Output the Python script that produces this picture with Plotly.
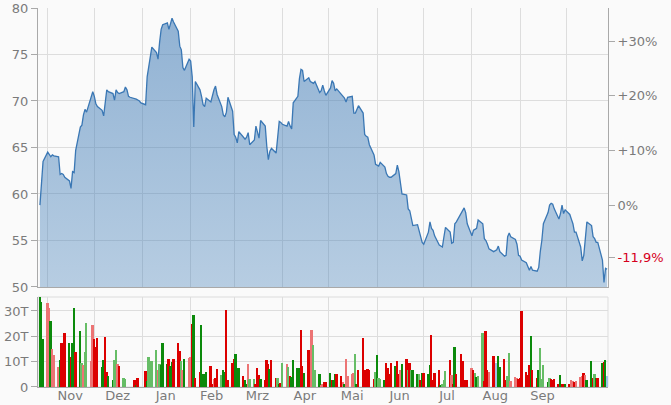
import pandas as pd
import plotly.graph_objects as go

# ---------------- data ----------------
months = ["2021-10", "2021-11", "2021-12", "2022-01", "2022-02", "2022-03", "2022-04",
          "2022-05", "2022-06", "2022-07", "2022-08", "2022-09", "2022-10"]
first_day = "2021-10-27"
last_day = "2022-10-27"

# closing prices per month
price_2021_10 = [58.8, 61.5, 63.5]
price_2021_11 = [64.5, 64.2, 64.0, 64.2, 64.1, 64.0, 62.1, 62.2, 62.1, 61.8, 61.4, 60.6, 62.4, 62.3,
                 64.7, 67.2, 67.4, 68.5, 69.1, 68.8, 70.3, 71.0]
price_2021_12 = [70.5, 69.7, 69.4, 69.0, 68.4, 69.9, 71.2, 71.0, 70.8, 70.1, 71.2, 70.9, 70.8, 71.0,
                 71.5, 71.2, 70.5, 70.4, 70.3, 70.2, 70.1, 70.0, 69.8]
price_2022_01 = [69.6, 72.6, 73.7, 74.8, 75.8, 75.2, 74.5, 76.3, 77.7, 78.2, 78.4, 77.7, 78.2, 78.9,
                 78.5, 77.5, 75.9, 75.5, 73.6, 73.3, 74.5]
price_2022_02 = [74.3, 72.6, 67.2, 72.1, 71.2, 70.5, 69.6, 69.4, 70.3, 69.9, 70.7, 71.2, 71.6, 70.7,
                 69.4, 68.5, 68.3, 68.8, 70.4, 68.9]
price_2022_03 = [66.4, 66.1, 65.5, 66.7, 66.1, 65.9, 66.1, 66.6, 65.3, 65.8, 67.3, 66.6, 66.0, 67.9,
                 67.3, 65.1, 63.7, 64.6, 64.9, 64.4, 65.8, 67.8, 67.7]
price_2022_04 = [67.5, 67.3, 67.8, 67.3, 67.0, 69.8, 70.5, 72.4, 73.4, 73.3, 72.1, 72.5, 72.1, 72.0,
                 71.9, 72.1, 70.9, 71.1, 71.7, 71.1, 70.6]
price_2022_05 = [71.4, 72.2, 71.9, 71.1, 71.3, 70.7, 70.4, 70.3, 69.9, 70.4, 70.5, 68.7, 68.7, 69.1,
                 69.5, 68.7, 66.4, 66.2, 66.1, 65.3, 64.2, 63.2]
price_2022_06 = [63.1, 63.0, 63.4, 62.9, 62.2, 61.9, 61.8, 61.8, 62.2, 63.1, 62.4, 61.1, 60.0, 59.9,
                 58.4, 58.2, 57.5, 56.6, 56.7, 56.1, 55.7, 54.8]
price_2022_07 = [54.6, 55.9, 57.0, 56.3, 56.1, 55.5, 54.5, 54.4, 54.3, 55.4, 56.4, 55.9, 54.7, 54.8,
                 56.8, 57.0, 57.9, 58.2, 58.5, 58.0, 56.8]
price_2022_08 = [55.5, 56.1, 56.2, 56.3, 57.2, 56.8, 55.2, 55.0, 54.6, 54.1, 53.8, 53.9, 54.0, 54.4,
                 53.8, 53.3, 53.4, 55.4, 55.8, 55.4, 55.1, 54.6, 53.4]
price_2022_09 = [53.3, 52.9, 52.6, 52.1, 51.8, 52.2, 51.8, 51.7, 52.1, 53.8, 55.0, 56.8, 58.0, 58.8,
                 59.0, 58.9, 58.4, 57.3, 57.9, 58.8, 57.9, 58.3]
price_2022_10 = [57.8, 57.3, 56.8, 55.9, 55.9, 54.3, 52.8, 53.4, 55.4, 57.0, 56.6, 55.4, 55.2, 54.8,
                 54.8, 52.9, 50.5, 52.0, 51.9]

# volume in thousands (T = Tausend)
vol_2021_10 = [35.5, 33.5, 19.0]
vol_2021_11 = [33, 31, 26, 15, 12.8, 7.9, 10.5, 17.4, 7.5, 21.3, 17.4, 11.8, 17.4, 31, 13.8, 22,
               9.6, 8.6, 14, 25.4, 10.1, 24.3]
vol_2021_12 = [18.8, 15.8, 19.3, 7.9, 10.8, 19.7, 5.9, 4.2, 2.9, 10.5, 14.5, 9.2, 8.2, 3.7, 3.0,
               0, 0, 0, 2.9, 0.9, 3.7, 0, 0]
vol_2022_01 = [6.4, 2.4, 11.8, 8.2, 10.1, 14.5, 6.8, 9.2, 8.6, 17.4, 9.2, 11.2, 8.2, 9.9, 11.2,
               17.5, 14.2, 10.1, 6.6, 11.2, 11.4]
vol_2022_02 = [11.8, 24.7, 28.3, 3.7, 5.9, 24.3, 5.0, 5.0, 5.9, 8.2, 1.0, 3.3, 3.7, 7.2, 4.6, 6.6,
               5.9, 30.5, 2.6, 9.5]
vol_2022_03 = [11.2, 13.2, 5.9, 7.6, 4.2, 2.9, 1.3, 9.2, 3.3, 3.3, 1.0, 7.6, 4.6, 3.3, 2.6, 10.5,
               9.2, 7.2, 10.5, 3.7, 3.7, 1.0, 1.5]
vol_2022_04 = [9.6, 9.2, 7.9, 4.2, 3.9, 10.8, 7.6, 7.6, 22.6, 8.2, 5.5, 14.5, 8.6, 22.6, 16.7, 6.8,
               5.0, 0.7, 1.0, 2.0, 2.0]
vol_2022_05 = [5.5, 2.9, 2.6, 5.0, 5.0, 4.2, 2.0, 1.3, 11.2, 4.2, 5.3, 5.5, 13.2, 1.3, 6.6, 19.3,
               6.6, 3.3, 7.2, 6.8, 3.3, 5.9]
vol_2022_06 = [12.8, 3.7, 3.3, 2.6, 9.6, 7.6, 5.3, 9.6, 8.2, 10.1, 5.3, 6.6, 9.2, 11.2, 6.8, 9.6,
               6.6, 6.8, 5.3, 5.0, 2.6, 5.5]
vol_2022_07 = [5.5, 5.3, 8.6, 20.7, 2.6, 5.5, 6.8, 0.7, 1.1, 2.9, 6.2, 10.8, 4.6, 1.1, 15.8, 5.0,
               13.2, 10.1, 2.6, 2.6, 2.6]
vol_2022_08 = [7.6, 6.6, 5.5, 3.9, 4.2, 21.4, 2.4, 22.0, 6.6, 5.9, 12.2, 2.9, 9.5, 12.2, 7.9, 11.2,
               2.9, 4.2, 13.6, 2.4, 3.9, 3.7, 3.3]
vol_2022_09 = [3.7, 30.0, 5.9, 4.6, 8.6, 20.1, 6.6, 3.7, 6.6, 15.4, 3.3, 8.6, 2.0, 3.7, 3.3, 2.9,
               3.3, 1.1, 4.6, 1.3, 1.1, 1.3]
vol_2022_10 = [1.0, 2.9, 2.2, 2.0, 2.4, 3.9, 4.2, 5.7, 4.6, 2.6, 10.3, 3.7, 5.3, 3.7, 3.7, 9.5, 9.9,
               10.8, 4.2]

# volume bar category: G = up, g = up (light), R = down, r = down (light), B = unchanged
dir_2021_10 = "GGG"
dir_2021_11 = "rrGrrrGRRRGRGGRGgrggrr"
dir_2021_12 = "RRRGGRRGGggrRggRRRRGRRR"
dir_2022_01 = "RGggggrgGGGRGGRRRgrGr"
dir_2022_02 = "rRGRRGGGGRRrRRgGGRRR"
dir_2022_03 = "RGGGRGGrggRRRGRRRGRRgGR"
dir_2022_04 = "grgRGGGGRRGRRrggGrrRR"
dir_2022_05 = "GRGGRRrGrrrrgGRRRRRRRg"
dir_2022_06 = "GggGRRRRGRRrGRgRgGGgRG"
dir_2022_07 = "RGGRRRRGgggRrRGRRRRRR"
dir_2022_08 = "rRgGggRRRrRRBGGRRggrrrR"
dir_2022_09 = "RRRRRGRRGgggGgRRRRGRRG"
dir_2022_10 = "RrrRrrrRrGGRgGRGRGB"

month_labels = ["Nov", "Dez", "Jan", "Feb", "Mrz", "Apr", "Mai", "Jun", "Jul", "Aug", "Sep"]
left_ticks = [50, 55, 60, 65, 70, 75, 80]
pct_ticks = [30, 20, 10, 0, -9.6]
pct_text = ["+30%", "+20%", "+10%", "0%", "<span style='color:#d6001c'>-11,9%</span>"]
vol_ticks = [0, 10, 20, 30]
vol_text = ["0", "10T", "20T", "30T"]

# ---------------- assemble ----------------
prices_by_month = [price_2021_10, price_2021_11, price_2021_12, price_2022_01, price_2022_02,
                   price_2022_03, price_2022_04, price_2022_05, price_2022_06, price_2022_07,
                   price_2022_08, price_2022_09, price_2022_10]
vols_by_month = [vol_2021_10, vol_2021_11, vol_2021_12, vol_2022_01, vol_2022_02, vol_2022_03,
                 vol_2022_04, vol_2022_05, vol_2022_06, vol_2022_07, vol_2022_08, vol_2022_09,
                 vol_2022_10]
dirs_by_month = [dir_2021_10, dir_2021_11, dir_2021_12, dir_2022_01, dir_2022_02, dir_2022_03,
                 dir_2022_04, dir_2022_05, dir_2022_06, dir_2022_07, dir_2022_08, dir_2022_09,
                 dir_2022_10]

dates, price, vol, vdir = [], [], [], []
for m, p, v, d in zip(months, prices_by_month, vols_by_month, dirs_by_month):
    ms = pd.Timestamp(m + "-01")
    start = max(ms, pd.Timestamp(first_day))
    end = min(ms + pd.offsets.MonthEnd(0), pd.Timestamp(last_day))
    days = pd.bdate_range(start, end)
    assert len(days) == len(p) == len(v) == len(d), (m, len(days), len(p), len(v), len(d))
    dates += list(days)
    price += p
    vol += v
    vdir += list(d)

base = price[0]
pct = [(x / base - 1) * 100 for x in price]

month_starts = [pd.Timestamp(m + "-01") for m in months[1:]]
month_mids = [s + (s + pd.offsets.MonthEnd(0) - s) / 2 for s in month_starts[:len(month_labels)]]

color_map = {"G": "#0b8a0b", "g": "#66bd66", "R": "#dc0000", "r": "#ec7474", "B": "#9fc4e6"}
bar_colors = [color_map[c] for c in vdir]

x_range = [pd.Timestamp("2021-10-25 18:00"), pd.Timestamp("2022-10-27 14:00")]

GRID = "#dddddd"
AXIS = "#a9a9a9"
TXT = "#7a7a7a"

fig = go.Figure()
fig.add_trace(go.Scatter(
    x=dates, y=price, mode="lines", xaxis="x", yaxis="y",
    line=dict(color="#3a77b4", width=1.3),
    fill="tozeroy",
    fillgradient=dict(type="vertical", start=50, stop=80,
                      colorscale=[[0, "rgba(68,128,185,0.37)"], [1, "rgba(60,120,180,0.56)"]]),
    hoverinfo="skip",
))
fig.add_trace(go.Scatter(
    x=dates, y=pct, mode="lines", xaxis="x", yaxis="y2",
    line=dict(width=0), opacity=0, hoverinfo="skip",
))
fig.add_trace(go.Bar(
    x=dates, y=vol, xaxis="x2", yaxis="y3",
    marker=dict(color=bar_colors, line=dict(width=0)),
    width=1.2 * 86400000, hoverinfo="skip",
))

main_bottom = 0.2639
vol_top = 0.2375

fig.update_layout(
    width=671, height=405,
    margin=dict(l=38, r=63, t=8, b=18, autoexpand=False),
    paper_bgcolor="#fafafa", plot_bgcolor="#fafafa",
    showlegend=False,
    font=dict(family="DejaVu Sans", size=13, color=TXT),
    xaxis=dict(domain=[0, 1], anchor="y", type="date", range=x_range, automargin=False,
               showticklabels=False, tickmode="array", tickvals=month_starts, ticks="",
               showgrid=True, gridcolor=GRID, gridwidth=1,
               showline=True, linecolor=AXIS, linewidth=1, zeroline=False),
    yaxis=dict(domain=[main_bottom, 1], anchor="x", range=[50, 80], automargin=False,
               tickmode="array", tickvals=left_ticks,
               ticks="outside", ticklen=6, tickcolor=AXIS,
               showgrid=True, gridcolor=GRID, gridwidth=1,
               showline=True, linecolor=AXIS, linewidth=1, zeroline=False),
    yaxis2=dict(overlaying="y", side="right", anchor="x", automargin=False,
                range=[(50 / base - 1) * 100, (80 / base - 1) * 100],
                tickmode="array", tickvals=pct_ticks, ticktext=pct_text,
                ticks="outside", ticklen=6, tickcolor=AXIS,
                showgrid=False, showline=True, linecolor=AXIS, linewidth=1, zeroline=False),
    xaxis2=dict(domain=[0, 1], anchor="y3", type="date", matches="x", automargin=False,
                tickmode="array", tickvals=month_mids, ticktext=month_labels, ticks="",
                ticklabelstandoff=-4,
                showgrid=False,
                minor=dict(tickmode="array", tickvals=month_starts, showgrid=True,
                           gridcolor=GRID, gridwidth=1, ticks=""),
                showline=True, linecolor=AXIS, linewidth=1, zeroline=False),
    yaxis3=dict(domain=[0, vol_top], anchor="x2", range=[0, 35.5], automargin=False,
                tickmode="array", tickvals=vol_ticks, ticktext=vol_text,
                ticks="outside", ticklen=6, tickcolor=AXIS,
                showgrid=True, gridcolor=GRID, gridwidth=1,
                showline=True, linecolor=AXIS, linewidth=1, zeroline=False),
    shapes=[dict(type="rect", xref="x2 domain", yref="y3 domain", x0=0, x1=1, y0=0, y1=1,
                 line=dict(color=GRID, width=1), layer="below")],
    bargap=0,
)

fig.write_html("out.html",
               config={"displayModeBar": False},
               post_script="document.body.style.margin='0';document.body.style.background='#fafafa';")
